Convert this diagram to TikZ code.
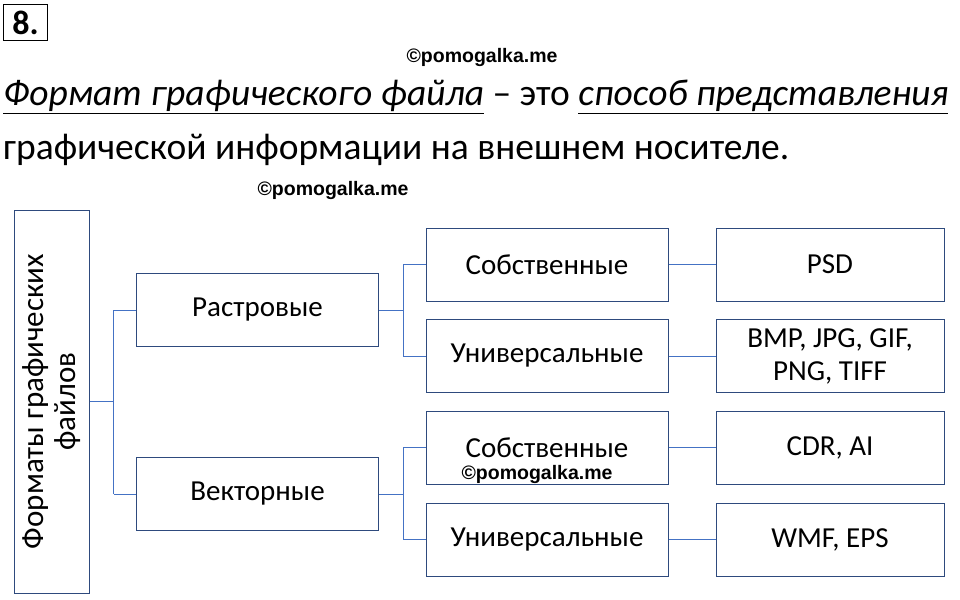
\documentclass[tikz,border=0pt]{standalone}
\usepackage{fontspec}
\setmainfont{Carlito}
\newfontfamily\wmfont{Liberation Sans}
\usetikzlibrary{positioning}
\definecolor{boxline}{HTML}{2E4A7D}
\definecolor{linkline}{HTML}{4472C4}
\tikzset{
  item/.style={draw=boxline, line width=1pt, minimum width=242pt, minimum height=73pt, align=center, font=\fontsize{29}{33}\selectfont, inner sep=2pt},
  leaf/.style={item, minimum width=228pt},
  link/.style={draw=linkline, line width=1pt},
  wmark/.style={font=\wmfont\bfseries\fontsize{19.5}{21}\selectfont}
}
\begin{document}
\begin{tikzpicture}[x=1pt,y=-1pt]
\useasboundingbox (0,0) rectangle (960,599);

% heading
\node[draw, line width=1.8pt, font=\bfseries\fontsize{34}{36}\selectfont, inner sep=3pt, minimum height=36pt, minimum width=44pt] (num) at (25.5,22.5) {8.};
\node[wmark] (wm1) at (482,58) {©pomogalka.me};
\node[anchor=west, font=\fontsize{37.5}{42}\selectfont, inner sep=0pt] (line1) at (3,97)
  {\underline{\textit{Формат графического файла}} – это \underline{\textit{способ представления}}};
\node[anchor=west, font=\fontsize{37.5}{42}\selectfont, inner sep=0pt] (line2) at (3,150)
  {графической информации на внешнем носителе.};
\node[wmark] (wm2) at (333,190) {©pomogalka.me};

% tree
\node[draw=boxline, line width=1pt, minimum width=383pt, minimum height=75pt, rotate=90, align=center, font=\fontsize{31}{32}\selectfont, inner sep=1pt] (root) at (51.5,401.5) {Форматы графических\\файлов};
\node[item] (rast) at (257.5,310) {Растровые};
\node[item] (vect) at (257.5,494) {Векторные};
\node[item] (rs) at (547,264.5) {Собственные};
\node[item] (ru) at (547,356) {Универсальные};
\node[item] (vs) at (547,447.5) {Собственные};
\node[item] (vu) at (547,539.5) {Универсальные};
\node[leaf] (psd) at (830,264.5) {PSD};
\node[leaf] (bmp) at (830,356) {BMP, JPG, GIF,\\PNG, TIFF};
\node[leaf] (cdr) at (830,447.5) {CDR, AI};
\node[leaf] (wmf) at (830,539.5) {WMF, EPS};
\node[wmark] (wm3) at (537,474) {©pomogalka.me};

\draw[link] (root.south) -- ++(24,0) coordinate (j1);
\draw[link] (j1 |- rast) -- (j1 |- vect);
\draw[link] (j1 |- rast) -- (rast.west);
\draw[link] (j1 |- vect) -- (vect.west);
\foreach \p/\a/\b in {rast/rs/ru, vect/vs/vu} {
  \draw[link] (\p.east) -- ++(24,0) coordinate (j2);
  \draw[link] (j2 |- \a) -- (j2 |- \b);
  \draw[link] (j2 |- \a) -- (\a.west);
  \draw[link] (j2 |- \b) -- (\b.west);
}
\foreach \a/\b in {rs/psd, ru/bmp, vs/cdr, vu/wmf}
  \draw[link] (\a.east) -- (\b.west);
\end{tikzpicture}
\end{document}
